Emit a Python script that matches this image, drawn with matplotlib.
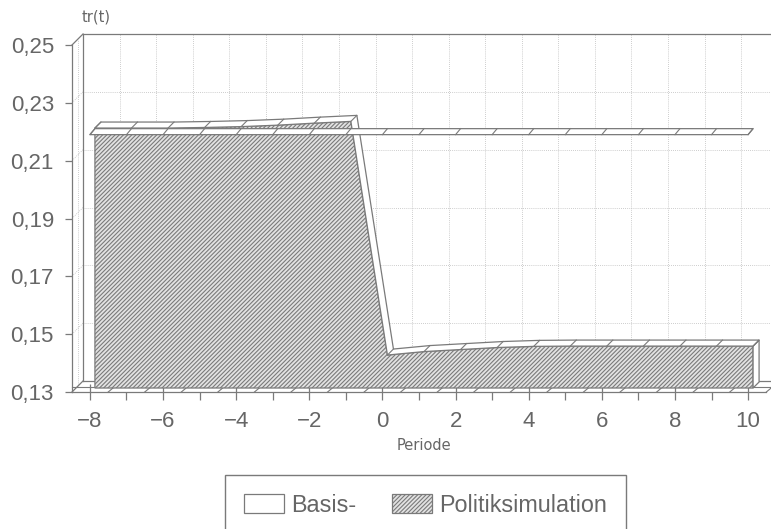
import numpy as np
import matplotlib
matplotlib.use('Agg')
import matplotlib.pyplot as plt
from matplotlib.patches import Polygon, Patch
from matplotlib.transforms import Affine2D
plt.rcParams['font.family'] = ['Liberation Sans', 'DejaVu Sans']
plt.rcParams['hatch.linewidth'] = 0.8
plt.rcParams['hatch.color'] = '#6e6e6e'

periods = list(range(-8, 11))
basis = [0.219] * 19
politik = [0.2199, 0.2199, 0.2199, 0.2201, 0.2204, 0.2209, 0.2216, 0.2222, 0.1414,
           0.1426, 0.1433, 0.1440, 0.1444, 0.1445, 0.1445, 0.1445, 0.1445, 0.1445, 0.1445]
y_ticks = [0.13, 0.15, 0.17, 0.19, 0.21, 0.23, 0.25]
y_labels = ['0,13', '0,15', '0,17', '0,19', '0,21', '0,23', '0,25']
x_major = [-8, -6, -4, -2, 0, 2, 4, 6, 8, 10]
x_minor = [-7, -5, -3, -1, 1, 3, 5, 7, 9]
x_labels = ['\u22128', '\u22126', '\u22124', '\u22122', '0', '2', '4', '6', '8', '10']
legend_labels = ['Basis-', 'Politiksimulation']

INK = '#7a7a7a'
TEXT = '#666666'
HATCH = '/' * 8
FACE = '#e2e2e2'
W, H = 771, 529
fig = plt.figure(figsize=(W/100, H/100), dpi=100, facecolor='white')
L, R, T, B = 72, 766, 45, 392
ax = fig.add_axes([L/W, 1-B/H, (R-L)/W, (B-T)/H])
ax.set_xlim(-8.49, 10.49)
ax.set_ylim(0.13, 0.25)
for s in ['top', 'right']:
    ax.spines[s].set_visible(False)
for s in ['left', 'bottom']:
    ax.spines[s].set_color(INK)
    ax.spines[s].set_linewidth(0.9)
ax.patch.set_visible(False)

def off(dx, dy):
    return ax.transData + Affine2D().translate(dx, dy)

x = np.array(periods, float)
pol = np.array(politik)
bas = np.array(basis)
xl, xr = ax.get_xlim()

# back wall + grid
back = off(11, 11)
grid = dict(color='#bdbdbd', lw=0.6, ls=(0, (1, 1.5)), clip_on=False, zorder=1)
for v in y_ticks[1:-1]:
    ax.plot([xl, xr], [v, v], transform=back, **grid)
for k in range(1, 19):
    ax.plot([xl+k, xl+k], [0.13, 0.25], transform=back, **grid)
solid = dict(color=INK, lw=0.9, clip_on=False, zorder=1.5)
ax.plot([xl, xr], [0.25, 0.25], transform=back, **solid)
ax.plot([xl, xl], [0.13, 0.25], transform=back, **solid)
ax.plot([xl, xr], [0.13, 0.13], transform=back, **solid)
# left wall
ax.plot([xl, xl], [0.13, 0.25], transform=off(5.5, 5.5), **grid)
inv = ax.transData.inverted()
for v in y_ticks:
    p0 = (xl, v)
    p1 = inv.transform(ax.transData.transform((xl, v)) + np.array([11, 11]))
    st = solid if v in (0.13, 0.25) else grid
    ax.plot([p0[0], p1[0]], [p0[1], p1[1]], **st)

# floor ribbon
ax.plot([xl, xr+0.15], [0.13, 0.13], transform=off(0, 5), color=INK, lw=0.8, clip_on=False, zorder=1.6)
for k in x_major + x_minor:
    xs = k + 0.5
    if xs > 10.5:
        continue
    a = ax.transData.transform((xs, 0.13))
    b = inv.transform(a + np.array([6, 5]))
    ax.plot([xs, b[0]], [0.13, b[1]], color=INK, lw=0.8, clip_on=False, zorder=1.6)

def pts(xv, yv, dx, dy):
    t = off(dx, dy)
    return t.transform(np.column_stack([xv, yv]))

# Politik series
PF = (5, 4)
PB = (11, 10)
front = pts(x, pol, *PF)
rear = pts(x, pol, *PB)
base = pts(np.array([10, -8.]), np.array([0.13, 0.13]), *PF)
face = Polygon(np.vstack([front, base]), closed=True, transform=None, facecolor=FACE,
               edgecolor=INK, hatch=HATCH, lw=0.9, zorder=3)
ax.add_patch(face)
top = Polygon(np.vstack([front, rear[::-1]]), closed=True, transform=None, facecolor='white',
              edgecolor=INK, lw=0.9, zorder=3.2)
ax.add_patch(top)
side_base = pts(np.array([10.]), np.array([0.13]), *PF)[0]
side = Polygon([front[-1], rear[-1], side_base + np.array([6, 6]), side_base], closed=True,
               transform=None, facecolor='white', edgecolor=INK, lw=0.9, zorder=3.1)
ax.add_patch(side)
for f, r in zip(front, rear):
    ax.plot([f[0], r[0]], [f[1], r[1]], transform=None, color=INK, lw=0.8, zorder=3.3)

# Basis series
BF = (0, 0)
BB = (5, 6)
bf = pts(x, bas, *BF)
bb = pts(x, bas, *BB)
rib = Polygon(np.vstack([bf, bb[::-1]]), closed=True, transform=None, facecolor='white',
              edgecolor=INK, lw=0.9, zorder=4)
ax.add_patch(rib)
for f, r in zip(bf, bb):
    ax.plot([f[0], r[0]], [f[1], r[1]], transform=None, color=INK, lw=0.8, zorder=4.1)

# ticks
ax.set_xticks(x_major)
ax.set_xticks(x_minor, minor=True)
ax.set_xticklabels(x_labels)
ax.set_yticks(y_ticks)
ax.set_yticklabels(y_labels)
ax.tick_params(axis='x', which='major', direction='inout', length=12, width=0.9, color=INK,
               labelsize=16, labelcolor=TEXT, pad=8, zorder=5)
ax.tick_params(axis='x', which='minor', direction='out', length=5.8, width=0.9, color=INK, zorder=5)
ax.tick_params(axis='y', which='major', direction='out', length=5, width=0.9, color=INK,
               labelsize=16, labelcolor=TEXT, pad=8)

fig.text(424/W, 1-445/H, 'Periode', ha='center', va='center', fontsize=10.5,
         color=TEXT, family='DejaVu Sans')
fig.text(82/W, 1-17/H, 'tr(t)', ha='left', va='center', fontsize=10.5,
         color=TEXT, family='DejaVu Sans')

handles = [Patch(facecolor='white', edgecolor=INK, lw=0.9),
           Patch(facecolor=FACE, edgecolor=INK, hatch=HATCH, lw=0.9)]
fig.legend(handles, legend_labels, loc='upper left', bbox_to_anchor=(225/W, 1-475/H),
           borderaxespad=0, ncol=2, fontsize=16.8, frameon=True, fancybox=False, framealpha=1,
           edgecolor=INK, handlelength=1.72, handleheight=0.86, handletextpad=0.3,
           columnspacing=1.55, borderpad=0.8, labelcolor=TEXT)

fig.savefig('out.png', dpi=100)
